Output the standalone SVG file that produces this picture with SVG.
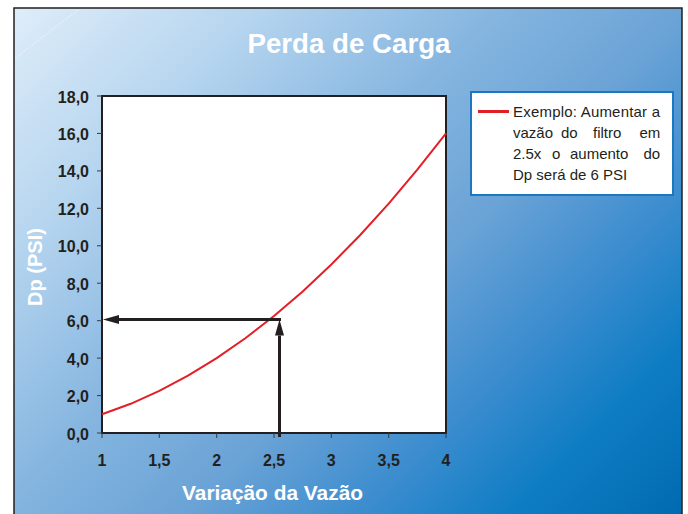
<svg xmlns="http://www.w3.org/2000/svg" width="688" height="514" viewBox="0 0 688 514">
<style>
text{font-family:"Liberation Sans",Arial,Helvetica,sans-serif;}
.ax{font-size:16px;font-weight:bold;fill:#231f20;}
.ttl{font-weight:bold;fill:#ffffff;}
.leg{font-size:15px;fill:#231f20;}
.tick{stroke:#3a3a3a;stroke-width:1;}
.conn{stroke:#231f20;stroke-width:3;fill:none;}
</style>
<defs>
<linearGradient id="bg" gradientUnits="userSpaceOnUse" x1="0" y1="0" x2="600" y2="600">
<stop offset="0" stop-color="#e2effa"/>
<stop offset="0.22" stop-color="#b6d5ef"/>
<stop offset="0.42" stop-color="#86b6e0"/>
<stop offset="0.58" stop-color="#6ba3d6"/>
<stop offset="0.72" stop-color="#3e8ecf"/>
<stop offset="0.85" stop-color="#0f7dc4"/>
<stop offset="1" stop-color="#006ab0"/>
</linearGradient>
<marker id="ah" markerUnits="userSpaceOnUse" markerWidth="18" markerHeight="10" viewBox="0 -5 18 10" refX="0" refY="0" orient="auto">
<path d="M0,-4.5 L16,0 L0,4.5 z" fill="#231f20"/>
</marker>
</defs>
<rect x="0" y="0" width="688" height="514" fill="#ffffff"/>
<rect id="frame" x="14" y="8" width="668" height="520" fill="url(#bg)" stroke="#231f20" stroke-width="1.5"/>
<line x1="15" y1="58" x2="78" y2="10" stroke="#ffffff" stroke-opacity="0.7" stroke-width="0.8" stroke-dasharray="2 1.5"/>
<g id="title"><text class="ttl" x="349" y="52.5" font-size="27" text-anchor="middle" textLength="203" lengthAdjust="spacingAndGlyphs">Perda de Carga</text></g>
<g id="plot">
<rect x="102" y="96" width="344" height="337" fill="#ffffff" stroke="#231f20" stroke-width="2"/>
<polyline fill="none" stroke="#e41e26" stroke-width="2" points="102,414.3 130.7,403.8 159.3,390.9 188,375.7 216.7,358.1 245.3,338.2 274,316 302.7,291.4 331.3,264.5 360,235.2 388.7,203.7 417.3,169.7 446,133.4"/>
</g>
<g id="y-axis">
<g class="tick">
<line x1="97" y1="433" x2="102" y2="433"/><line x1="97" y1="395.6" x2="102" y2="395.6"/><line x1="97" y1="358.1" x2="102" y2="358.1"/><line x1="97" y1="320.7" x2="102" y2="320.7"/><line x1="97" y1="283.2" x2="102" y2="283.2"/><line x1="97" y1="245.8" x2="102" y2="245.8"/><line x1="97" y1="208.3" x2="102" y2="208.3"/><line x1="97" y1="170.9" x2="102" y2="170.9"/><line x1="97" y1="133.4" x2="102" y2="133.4"/><line x1="97" y1="96" x2="102" y2="96"/>
</g>
<g class="ax" text-anchor="end">
<text x="89" y="439.5">0,0</text><text x="89" y="402">2,0</text><text x="89" y="364.6">4,0</text><text x="89" y="327.2">6,0</text><text x="89" y="289.7">8,0</text><text x="89" y="252.3">10,0</text><text x="89" y="214.8">12,0</text><text x="89" y="177.4">14,0</text><text x="89" y="139.9">16,0</text><text x="89" y="102.5">18,0</text>
</g>
<text class="ttl" font-size="20" text-anchor="middle" transform="translate(42,267) rotate(-90)">Dp (PSI)</text>
</g>
<g id="x-axis">
<g class="tick">
<line x1="102" y1="433" x2="102" y2="438"/><line x1="159.3" y1="433" x2="159.3" y2="438"/><line x1="216.7" y1="433" x2="216.7" y2="438"/><line x1="274" y1="433" x2="274" y2="438"/><line x1="331.3" y1="433" x2="331.3" y2="438"/><line x1="388.7" y1="433" x2="388.7" y2="438"/><line x1="446" y1="433" x2="446" y2="438"/>
</g>
<g class="ax" text-anchor="middle">
<text x="102" y="465.5">1</text><text x="159.3" y="465.5">1,5</text><text x="216.7" y="465.5">2</text><text x="274" y="465.5">2,5</text><text x="331.3" y="465.5">3</text><text x="388.7" y="465.5">3,5</text><text x="446" y="465.5">4</text>
</g>
<text class="ttl" x="272.5" y="500" font-size="20" text-anchor="middle" textLength="181" lengthAdjust="spacingAndGlyphs">Variação da Vazão</text>
</g>
<g id="legend">
<rect x="471" y="92" width="202" height="103" fill="#ffffff" stroke="#1a78c2" stroke-width="2"/>
<line x1="478" y1="111.5" x2="509" y2="111.5" stroke="#e41e26" stroke-width="3"/>
<text class="leg" x="513" y="117" textLength="147" lengthAdjust="spacing">Exemplo: Aumentar a</text>
<text class="leg" y="138"><tspan x="513">vazão</tspan><tspan x="561">do</tspan><tspan x="593">filtro</tspan><tspan x="639.5">em</tspan></text>
<text class="leg" y="159"><tspan x="513">2.5x</tspan><tspan x="552">o</tspan><tspan x="570">aumento</tspan><tspan x="643.5">do</tspan></text>
<text class="leg" x="513" y="180">Dp será de 6 PSI</text>
</g>
<g id="connectors">
<line class="conn" x1="281" y1="319.5" x2="119" y2="319.5" marker-end="url(#ah)"/>
<line class="conn" x1="279.5" y1="437" x2="279.5" y2="335.5" marker-end="url(#ah)"/>
</g>
</svg>
